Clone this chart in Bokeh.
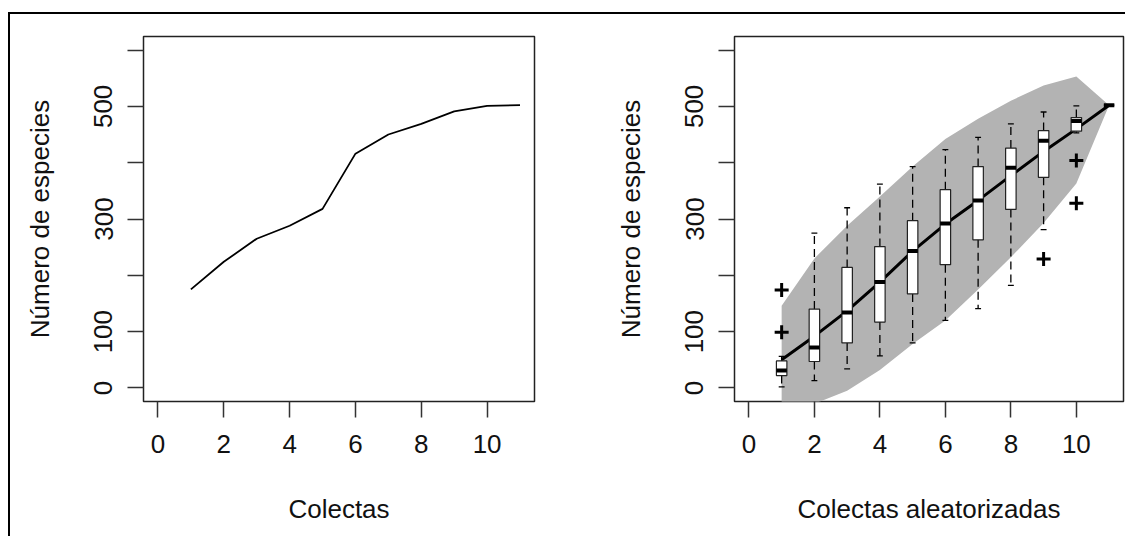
from bokeh.plotting import figure
from bokeh.layouts import row
from bokeh.models import Range1d, FixedTicker
from bokeh.embed import file_html
from bokeh.resources import INLINE

# ---- data: left panel (species accumulation curve) ----
colectas = [1, 2, 3, 4, 5, 6, 7, 8, 9, 10, 11]
especies = [175, 224, 265, 288, 318, 416, 450, 469, 491, 501, 502]

# ---- data: right panel (randomized collections) ----
rx = [1, 2, 3, 4, 5, 6, 7, 8, 9, 10, 11]
media = [50, 92, 137, 188, 243, 291, 333, 377, 420, 460, 502]
banda_sup = [146, 230, 288, 340, 393, 442, 478, 510, 537, 553, 502]
banda_inf = [-45, -28, -5, 32, 78, 120, 175, 232, 293, 363, 502]
q1 = [22, 47, 80, 117, 167, 219, 263, 317, 374, 456, 502]
mediana = [31, 72, 134, 188, 243, 292, 333, 391, 439, 474, 502]
q3 = [48, 140, 214, 251, 297, 352, 393, 426, 457, 480, 502]
bigote_inf = [2, 13, 34, 57, 80, 120, 141, 182, 281, 453, 502]
bigote_sup = [56, 275, 320, 362, 393, 423, 445, 469, 490, 501, 502]
atipicos_x = [1, 1, 9, 10, 10]
atipicos_y = [174, 99, 229, 404, 328]

x_ticks = [0, 2, 4, 6, 8, 10]
y_ticks = [0, 100, 200, 300, 400, 500, 600]
y_hidden = {200: "", 400: "", 600: ""}

FONT = "Liberation Sans"
FS = "26px"


def make_fig(xlabel, left_border, frame_w, right_border):
    p = figure(width=left_border + frame_w + right_border,
               height=522,
               x_range=Range1d(-0.44, 11.44), y_range=Range1d(-24, 624),
               output_backend="svg", toolbar_location=None,
               min_border_left=left_border, min_border_right=right_border,
               min_border_top=22, min_border_bottom=135)
    p.grid.visible = False
    p.outline_line_color = "#222222"
    p.outline_line_width = 1.5
    p.background_fill_color = "white"
    p.border_fill_color = "white"

    p.xaxis.ticker = FixedTicker(ticks=x_ticks)
    p.yaxis.ticker = FixedTicker(ticks=y_ticks)
    p.yaxis.major_label_overrides = y_hidden
    p.yaxis.major_label_orientation = "vertical"
    for ax in (p.xaxis, p.yaxis):
        ax.axis_line_color = None
        ax.major_tick_in = 0
        ax.major_tick_out = 16
        ax.major_tick_line_width = 1.5
        ax.major_tick_line_color = "#333333"
        ax.minor_tick_line_color = None
        ax.major_label_text_font = FONT
        ax.major_label_text_font_size = FS
        ax.major_label_text_color = "#111111"
        ax.axis_label_text_font = FONT
        ax.axis_label_text_font_size = FS
        ax.axis_label_text_font_style = "normal"
        ax.axis_label_text_color = "#111111"
    p.xaxis.major_label_standoff = 17
    p.yaxis.major_label_standoff = 15
    p.xaxis.axis_label_standoff = 38
    p.yaxis.axis_label_standoff = 37
    p.xaxis.axis_label = xlabel
    p.yaxis.axis_label = "Número de especies"
    return p


# left panel
p1 = make_fig("Colectas", 133, 391, 32)
p1.line(colectas, especies, line_color="black", line_width=1.8)

# right panel
p2 = make_fig("Colectas aleatorizadas", 168, 389, 2)
p2.patch(rx + rx[::-1], banda_sup + banda_inf[::-1],
         fill_color="#B3B3B3", line_color=None)
p2.line(rx, media, line_color="black", line_width=3)

hw = 0.16
cw = 0.09
p2.segment(x0=rx, y0=q3, x1=rx, y1=bigote_sup, line_color="black",
           line_width=1.3, line_dash="8 5")
p2.segment(x0=rx, y0=q1, x1=rx, y1=bigote_inf, line_color="black",
           line_width=1.3, line_dash="8 5")
p2.segment(x0=[v - cw for v in rx], y0=bigote_sup, x1=[v + cw for v in rx],
           y1=bigote_sup, line_color="black", line_width=1.3)
p2.segment(x0=[v - cw for v in rx], y0=bigote_inf, x1=[v + cw for v in rx],
           y1=bigote_inf, line_color="black", line_width=1.3)
p2.quad(left=[v - hw for v in rx], right=[v + hw for v in rx], bottom=q1, top=q3,
        fill_color="white", line_color="#222222", line_width=1.2)
p2.segment(x0=[v - hw for v in rx], y0=mediana, x1=[v + hw for v in rx],
           y1=mediana, line_color="black", line_width=4)
p2.scatter(atipicos_x, atipicos_y, marker="cross", size=14,
           line_color="black", line_width=3)

layout = row(p1, p2, margin=(12, 0, 0, 8),
             styles={"border-top": "2px solid black", "border-left": "2px solid black"})

open("out.html", "w").write(file_html(layout, INLINE))
